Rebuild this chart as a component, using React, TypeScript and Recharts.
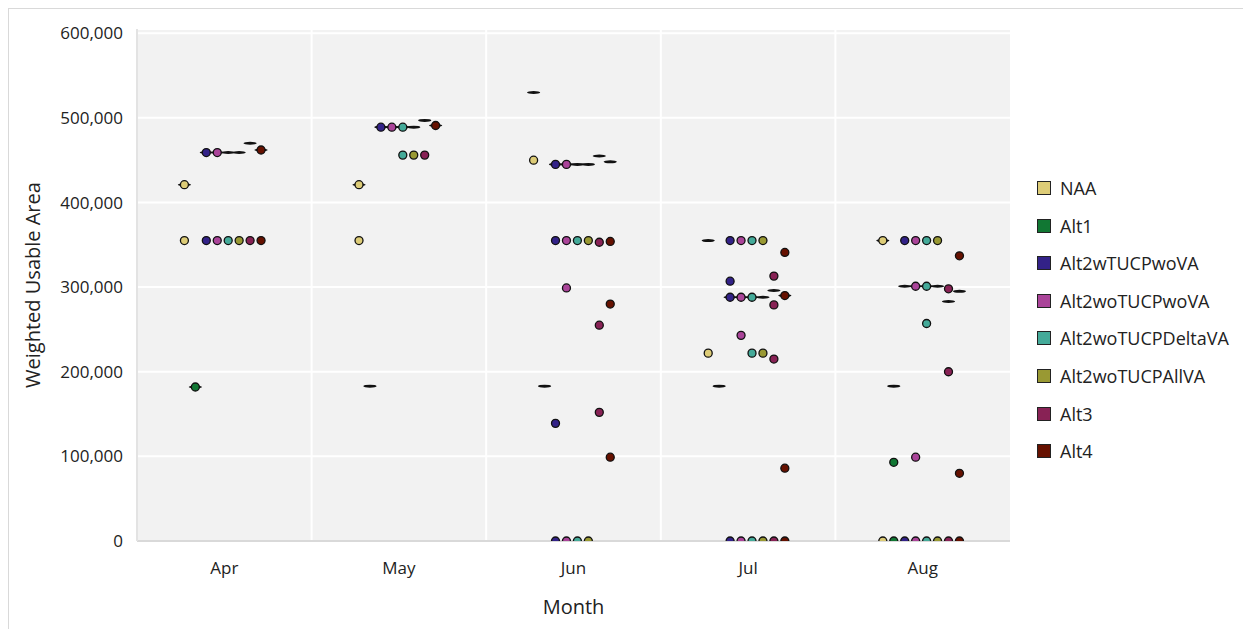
import React from "react";
import {
  ScatterChart,
  Scatter,
  XAxis,
  YAxis,
  CartesianGrid,
  ReferenceLine,
} from "recharts";

const MONTHS = ["Apr", "May", "Jun", "Jul", "Aug"];
const SERIES = [
  "NAA",
  "Alt1",
  "Alt2wTUCPwoVA",
  "Alt2woTUCPwoVA",
  "Alt2woTUCPDeltaVA",
  "Alt2woTUCPAllVA",
  "Alt3",
  "Alt4",
];
const COLORS = [
  "#DDCC77",
  "#117733",
  "#332288",
  "#AA4499",
  "#44AA99",
  "#999933",
  "#882255",
  "#661100",
];
const Y_TICKS = [0, 100000, 200000, 300000, 400000, 500000, 600000];

// individual points: [monthIndex, value]
const naaDots = [[0, 421000], [0, 355000], [1, 421000], [1, 355000], [2, 450000], [3, 222000], [4, 355000], [4, 0]];
const alt1Dots = [[0, 182000], [4, 93000], [4, 0]];
const alt2wDots = [[0, 459000], [0, 355000], [1, 489000], [2, 445000], [2, 355000], [2, 139000], [2, 0], [3, 355000], [3, 307000], [3, 288000], [3, 0], [4, 355000], [4, 0]];
const alt2woDots = [[0, 459000], [0, 355000], [1, 489000], [2, 445000], [2, 355000], [2, 299000], [2, 0], [3, 355000], [3, 288000], [3, 243000], [3, 0], [4, 355000], [4, 301000], [4, 99000], [4, 0]];
const deltaDots = [[0, 355000], [1, 489000], [1, 456000], [2, 355000], [2, 0], [3, 355000], [3, 288000], [3, 222000], [3, 0], [4, 355000], [4, 301000], [4, 257000], [4, 0]];
const allVaDots = [[0, 355000], [1, 456000], [2, 355000], [2, 0], [3, 355000], [3, 222000], [3, 0], [4, 355000], [4, 0]];
const alt3Dots = [[0, 355000], [1, 456000], [2, 353000], [2, 255000], [2, 152000], [3, 313000], [3, 279000], [3, 215000], [3, 0], [4, 298000], [4, 200000], [4, 0]];
const alt4Dots = [[0, 462000], [0, 355000], [1, 491000], [2, 354000], [2, 280000], [2, 99000], [3, 341000], [3, 290000], [3, 86000], [3, 0], [4, 337000], [4, 80000], [4, 0]];

// flat violin bodies: [monthIndex, value]
const naaViolins = [[0, 421000], [1, 421000], [2, 530000], [3, 355000], [4, 355000]];
const alt1Violins = [[0, 182000], [1, 183000], [2, 183000], [3, 183000], [4, 183000]];
const alt2wViolins = [[0, 459000], [1, 489000], [2, 445000], [3, 288000], [4, 301000]];
const alt2woViolins = [[0, 459000], [1, 489000], [2, 445000], [3, 288000], [4, 301000]];
const deltaViolins = [[0, 459000], [1, 489000], [2, 445000], [3, 288000], [4, 301000]];
const allVaViolins = [[0, 459000], [1, 489000], [2, 445000], [3, 288000], [4, 301000]];
const alt3Violins = [[0, 470000], [1, 497000], [2, 455000], [3, 296000], [4, 283000]];
const alt4Violins = [[0, 462000], [1, 491000], [2, 448000], [3, 290000], [4, 295000]];

const DOTS = [naaDots, alt1Dots, alt2wDots, alt2woDots, deltaDots, allVaDots, alt3Dots, alt4Dots];
const VIOLINS = [naaViolins, alt1Violins, alt2wViolins, alt2woViolins, deltaViolins, allVaViolins, alt3Violins, alt4Violins];

const DODGE = 0.0627;
const SHIFT = -0.009;
const toData = (arr: number[][], i: number) =>
  arr.map(([m, v]) => ({ x: m + 0.5 + SHIFT + (i - 3.5) * DODGE, y: v }));

const FONT = "'Segoe UI', 'Open Sans', 'Noto Sans', sans-serif";

const DashShape = (props: any) => {
  const { cx, cy } = props;
  if (cx == null || cy == null) return null;
  return <ellipse cx={cx} cy={cy} rx={6.6} ry={1.5} fill="#111" />;
};

const makeDot = (color: string) => (props: any) => {
  const { cx, cy } = props;
  if (cx == null || cy == null) return null;
  return <circle cx={cx} cy={cy} r={4} fill={color} stroke="#111" strokeWidth={1.3} />;
};

export default function App() {
  return (
    <div
      style={{
        position: "relative",
        width: 1243,
        height: 622,
        border: "1px solid #d9d9d9",
        fontFamily: FONT,
        background: "#fff",
      }}
    >
      <ScatterChart
        width={1243}
        height={620}
        margin={{ top: 20, right: 242, bottom: 0, left: 0 }}
      >
        <CartesianGrid
          fill="#f2f2f2"
          vertical={false}
          stroke="#ffffff"
          strokeWidth={2}
        />
        <XAxis
          type="number"
          dataKey="x"
          domain={[0, 5]}
          ticks={[0.5, 1.5, 2.5, 3.5, 4.5]}
          tickFormatter={(v: number) => MONTHS[Math.floor(v)]}
          height={88}
          tickSize={0}
          tickMargin={21}
          axisLine={{ stroke: "#d9d9d9", strokeWidth: 2 }}
          tick={{ fill: "#222", fontSize: 17, fontFamily: FONT }}
          allowDataOverflow
          label={{
            value: "Month",
            position: "insideBottom",
            offset: 15,
            fill: "#222",
            fontSize: 20,
            fontFamily: FONT,
          }}
        />
        <YAxis
          type="number"
          dataKey="y"
          domain={[0, 605000]}
          ticks={Y_TICKS}
          width={128}
          tickSize={0}
          tickMargin={14}
          axisLine={{ stroke: "#e3e3e3", strokeWidth: 2 }}
          tickFormatter={(v: number) => v.toLocaleString("en-US")}
          tick={{ fill: "#222", fontSize: 17, fontFamily: FONT }}
          allowDataOverflow
          label={{
            value: "Weighted Usable Area",
            angle: -90,
            position: "insideLeft",
            offset: 24,
            fill: "#222",
            fontSize: 20,
            fontFamily: FONT,
            style: { textAnchor: "middle" },
          }}
        />
        {[1, 2, 3, 4].map((v) => (
          <ReferenceLine key={v} x={v} stroke="#ffffff" strokeWidth={2} />
        ))}
        {VIOLINS.map((arr, i) => (
          <Scatter
            key={"v" + i}
            name={SERIES[i] + " violin"}
            data={toData(arr, i)}
            shape={DashShape}
            isAnimationActive={false}
          />
        ))}
        {DOTS.map((arr, i) => (
          <Scatter
            key={"d" + i}
            name={SERIES[i]}
            data={toData(arr, i)}
            shape={makeDot(COLORS[i])}
            isAnimationActive={false}
          />
        ))}
      </ScatterChart>
      <div style={{ position: "absolute", left: 1028, top: 172 }}>
        {SERIES.map((s, i) => (
          <div
            key={s}
            style={{
              display: "flex",
              alignItems: "center",
              height: 37.6,
              marginTop: i === 0 ? -11.8 : 0,
            }}
          >
            <div
              style={{
                width: 12,
                height: 12,
                background: COLORS[i],
                border: "1.5px solid #222",
                marginRight: 9,
              }}
            />
            <span style={{ fontSize: 18, color: "#222", whiteSpace: "nowrap" }}>{s}</span>
          </div>
        ))}
      </div>
    </div>
  );
}
